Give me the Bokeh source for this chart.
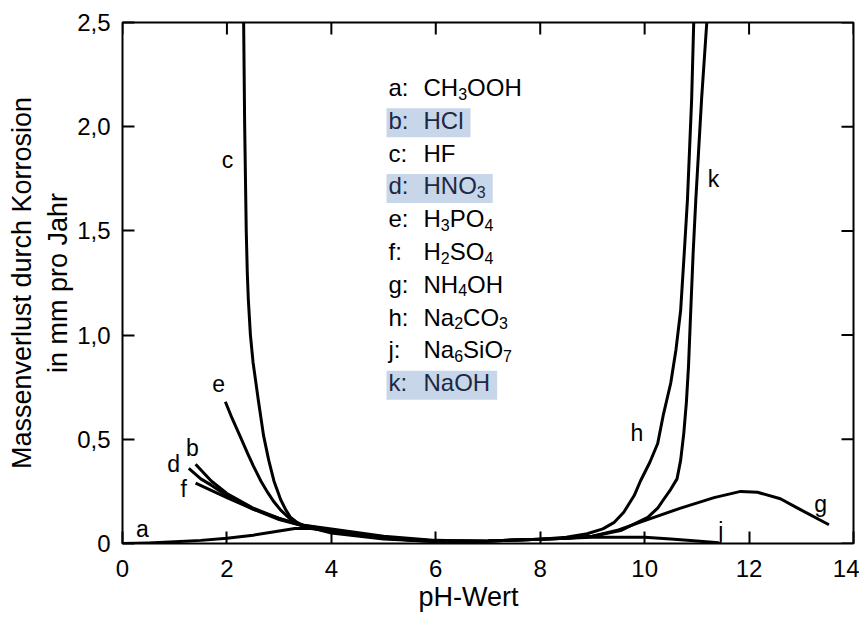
from bokeh.plotting import figure
from bokeh.models import Range1d, FixedTicker, ColumnDataSource, Title
from bokeh.core.properties import value
from bokeh.embed import file_html
from bokeh.resources import INLINE

FONT = "Liberation Sans"

# ---------------- data ----------------
x_ticks = [0, 2, 4, 6, 8, 10, 12, 14]
x_tick_labels = ["0", "2", "4", "6", "8", "10", "12", "14"]
y_ticks = [0.0, 0.5, 1.0, 1.5, 2.0, 2.5]
y_tick_labels = ["0", "0,5", "1,0", "1,5", "2,0", "2,5"]

a_x = [0.0, 0.5, 1.0, 1.5, 2.0, 2.5, 3.0, 3.3, 3.6, 4.0, 4.5, 5.0, 5.5, 6.0]
a_y = [0.0, 0.003, 0.008, 0.015, 0.025, 0.04, 0.06, 0.072, 0.072, 0.06, 0.042, 0.027, 0.016, 0.01]

b_x = [1.40, 1.7, 2.0, 2.5, 3.0, 3.4, 4.0, 5.0, 6.0, 7.0]
b_y = [0.38, 0.30, 0.24, 0.17, 0.12, 0.09, 0.065, 0.03, 0.012, 0.01]

c_x = [2.32, 2.33, 2.34, 2.355, 2.37, 2.39, 2.41, 2.45, 2.5, 2.6, 2.7, 2.8, 2.9, 3.03,
       3.13, 3.22, 3.35, 3.5, 4.0, 5.0, 6.0]
c_y = [2.5, 2.25, 2.0, 1.75, 1.5, 1.3, 1.17, 1.0, 0.87, 0.69, 0.52, 0.4, 0.3, 0.21,
       0.16, 0.125, 0.1, 0.082, 0.05, 0.022, 0.01]

d_x = [1.27, 1.5, 1.7, 2.0, 2.5, 3.0, 3.4, 4.0, 5.0, 6.0, 7.0]
d_y = [0.36, 0.31, 0.28, 0.23, 0.165, 0.115, 0.088, 0.06, 0.028, 0.012, 0.01]

e_x = [1.97, 2.1, 2.26, 2.4, 2.51, 2.65, 2.78, 2.9, 3.03, 3.22, 3.45, 4.0, 5.0, 6.0]
e_y = [0.68, 0.60, 0.51, 0.43, 0.37, 0.30, 0.245, 0.20, 0.16, 0.115, 0.085, 0.055, 0.025, 0.012]

f_x = [1.40, 1.7, 2.0, 2.5, 3.0, 3.4, 4.0, 5.0, 6.0, 7.0]
f_y = [0.29, 0.255, 0.22, 0.165, 0.12, 0.09, 0.07, 0.035, 0.015, 0.01]

g_x = [6.0, 7.0, 8.0, 8.5, 9.0, 9.5, 10.0, 10.69, 11.33, 11.84, 12.16, 12.6, 12.93, 13.53]
g_y = [0.01, 0.012, 0.02, 0.025, 0.035, 0.065, 0.11, 0.17, 0.22, 0.25, 0.246, 0.215, 0.17, 0.09]

h_x = [6.0, 7.0, 8.0, 8.5, 8.9, 9.2, 9.41, 9.6, 9.8, 9.92, 10.1, 10.25, 10.36, 10.5, 10.6,
       10.69, 10.76, 10.82, 10.9, 10.94]
h_y = [0.01, 0.012, 0.02, 0.03, 0.047, 0.07, 0.10, 0.15, 0.23, 0.30, 0.39, 0.48, 0.62, 0.77, 0.93,
       1.12, 1.4, 1.65, 2.13, 2.5]

j_x = [6.0, 7.0, 8.0, 9.0, 10.0, 10.5, 11.0, 11.42]
j_y = [0.01, 0.012, 0.02, 0.03, 0.03, 0.022, 0.012, 0.004]

k_x = [6.0, 7.0, 8.0, 8.5, 9.0, 9.54, 10.06, 10.25, 10.36, 10.5, 10.62, 10.69, 10.75, 10.8,
       10.84, 10.88, 10.93, 10.98, 11.09, 11.19]
k_y = [0.01, 0.012, 0.02, 0.025, 0.035, 0.062, 0.125, 0.17, 0.21, 0.26, 0.31, 0.40, 0.53, 0.68,
       0.85, 1.1, 1.4, 1.65, 2.13, 2.5]

curve_letters = ["a", "b", "c", "d", "e", "f", "g", "h", "j", "k"]
label_x = [0.38, 1.34, 2.01, 0.98, 1.84, 1.17, 13.37, 9.85, 11.46, 11.32]
label_y = [0.07, 0.46, 1.84, 0.38, 0.77, 0.26, 0.19, 0.53, 0.06, 1.75]

legend_keys = ["a:", "b:", "c:", "d:", "e:", "f:", "g:", "h:", "j:", "k:"]
legend_formulas = ["CH3OOH", "HCl", "HF", "HNO3", "H3PO4", "H2SO4",
                   "NH4OH", "Na2CO3", "Na6SiO7", "NaOH"]
legend_highlight = [False, True, False, True, False, False, False, False, False, True]

x_title = "pH-Wert"
y_title = "Massenverlust durch Korrosion\nin mm pro Jahr"

# ---------------- geometry helpers ----------------
ORIGIN = 0
W, H = 859, 617
BL, BR, BT, BB = 122, 6, 22, 74
FW = W - BL - BR
FH = H - BT - BB
X0, X1, Y0, Y1 = 0.0, 14.0, 0.0, 2.5


def px2x(px):  # page pixel -> data x
    return X0 + (px - ORIGIN - BL) / FW * (X1 - X0)


def py2y(py):  # page pixel -> data y
    return Y0 + (ORIGIN + BT + FH - py) / FH * (Y1 - Y0)


p = figure(width=W, height=H, x_range=Range1d(X0, X1), y_range=Range1d(Y0, Y1),
           output_backend="svg", toolbar_location=None,
           min_border_left=BL, min_border_right=BR, min_border_top=BT, min_border_bottom=BB)
p.background_fill_color = "white"
p.border_fill_color = "white"
p.outline_line_color = "black"
p.outline_line_width = 2
p.xgrid.visible = False
p.ygrid.visible = False

for ax in (p.xaxis[0], p.yaxis[0]):
    ax.axis_line_color = None
    ax.major_tick_in = 12
    ax.major_tick_out = 0
    ax.major_tick_line_width = 2
    ax.minor_tick_line_color = None
    ax.major_label_text_font = FONT
    ax.major_label_text_font_size = "24px"
    ax.major_label_text_color = "black"
    ax.axis_label_text_font = FONT
    ax.axis_label_text_font_size = "27px"
    ax.axis_label_text_font_style = "normal"
    ax.axis_label_text_color = "black"

p.xaxis[0].ticker = FixedTicker(ticks=x_ticks)
p.xaxis[0].major_label_overrides = dict(zip(x_ticks, x_tick_labels))
p.yaxis[0].ticker = FixedTicker(ticks=y_ticks)
p.yaxis[0].major_label_overrides = {t: l for t, l in zip(y_ticks, y_tick_labels)}
p.yaxis[0].axis_label = y_title
p.xaxis[0].major_label_standoff = 16
p.yaxis[0].major_label_standoff = 12
p.yaxis[0].axis_label_standoff = 1

# x-axis title, set slightly left of centre as in the original
p.add_layout(Title(text=x_title, align="left", offset=296, standoff=0,
                   text_font=FONT, text_font_size="27px", text_font_style="normal",
                   text_color="black"), "below")

# inward ticks on the top and right frame edges
tick_len_y = 12.0 / FH * (Y1 - Y0)
tick_len_x = 12.0 / FW * (X1 - X0)
p.segment(x0=x_ticks, y0=[Y1] * len(x_ticks), x1=x_ticks, y1=[Y1 - tick_len_y] * len(x_ticks),
          line_color="black", line_width=2)
p.segment(x0=[X1] * len(y_ticks), y0=y_ticks, x1=[X1 - tick_len_x] * len(y_ticks), y1=y_ticks,
          line_color="black", line_width=2)

# ---------------- curves ----------------
curves = [(a_x, a_y), (b_x, b_y), (c_x, c_y), (d_x, d_y), (e_x, e_y),
          (f_x, f_y), (g_x, g_y), (h_x, h_y), (j_x, j_y), (k_x, k_y)]
for cx, cy in curves:
    p.line(cx, cy, line_color="black", line_width=3, line_join="round", line_cap="butt")

p.text(x=label_x, y=label_y, text=curve_letters, text_font=value(FONT),
       text_font_size="23px", text_align="center", text_baseline="middle", text_color="black")

# ---------------- legend block ----------------
ARIAL_W = {"C": 722, "H": 722, "O": 778, "l": 222, "F": 611, "N": 722, "P": 667,
           "S": 667, "i": 222, "a": 556, "o": 556}
MAIN_FS, SUB_FS = 24, 16
KEY_PX, FORM_PX = 388, 423
ROW0, ROWSTEP = 87, 32.8

key_x, key_y, key_t, key_c = [], [], [], []
main_x, main_y, main_t, main_off, main_c = [], [], [], [], []
sub_x, sub_y, sub_t, sub_off, sub_c = [], [], [], [], []
hl_l, hl_r, hl_t, hl_b = [], [], [], []

for i, (k, f, hl) in enumerate(zip(legend_keys, legend_formulas, legend_highlight)):
    base = ROW0 + ROWSTEP * i
    col = "#1d2944" if hl else "black"
    key_x.append(px2x(KEY_PX)); key_y.append(py2y(base)); key_t.append(k); key_c.append(col)
    off = 0.0
    seg = ""
    segs = []
    for ch in f:
        if ch.isdigit():
            if seg:
                segs.append((seg, False)); seg = ""
            segs.append((ch, True))
        else:
            seg += ch
    if seg:
        segs.append((seg, False))
    for s, is_sub in segs:
        if is_sub:
            sub_x.append(px2x(FORM_PX)); sub_y.append(py2y(base)); sub_t.append(s)
            sub_off.append(off); sub_c.append(col)
            off += 556 * SUB_FS / 1000.0
        else:
            main_x.append(px2x(FORM_PX)); main_y.append(py2y(base)); main_t.append(s)
            main_off.append(off); main_c.append(col)
            off += sum(ARIAL_W.get(ch, 556) for ch in s) * MAIN_FS / 1000.0
    if hl:
        hl_l.append(px2x(KEY_PX - 2)); hl_r.append(px2x(FORM_PX + off + 7))
        hl_t.append(py2y(base - 12)); hl_b.append(py2y(base + 17))

p.quad(left=hl_l, right=hl_r, top=hl_t, bottom=hl_b, fill_color="#c8d6ea", line_color=None,
       level="underlay")

p.text(x="x", y="y", text="t", text_color="c", source=ColumnDataSource(
    dict(x=key_x, y=key_y, t=key_t, c=key_c)), text_font=value(FONT),
    text_font_size=f"{MAIN_FS}px", text_baseline="alphabetic", text_align="left")
p.text(x="x", y="y", text="t", text_color="c", x_offset="o", source=ColumnDataSource(
    dict(x=main_x, y=main_y, t=main_t, o=main_off, c=main_c)), text_font=value(FONT),
    text_font_size=f"{MAIN_FS}px", text_baseline="alphabetic", text_align="left")
p.text(x="x", y="y", text="t", text_color="c", x_offset="o", y_offset=6, source=ColumnDataSource(
    dict(x=sub_x, y=sub_y, t=sub_t, o=sub_off, c=sub_c)), text_font=value(FONT),
    text_font_size=f"{SUB_FS}px", text_baseline="alphabetic", text_align="left")

open("out.html", "w").write(file_html(p, INLINE))
